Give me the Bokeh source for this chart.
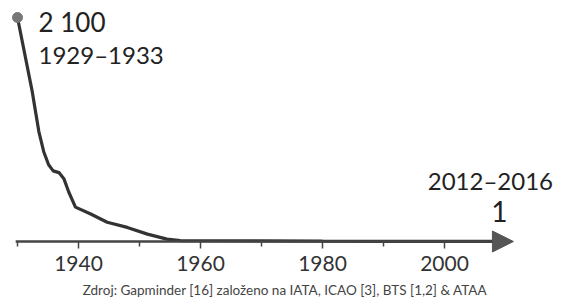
from bokeh.plotting import figure
from bokeh.models import Range1d, LinearAxis, FixedTicker, Arrow, NormalHead
from bokeh.core.properties import value
from bokeh.embed import file_html
from bokeh.resources import INLINE

# ---- data ----
years = [1930, 1932.4, 1932.95, 1933.5, 1934.3, 1935.1, 1935.85, 1936.8, 1937.6,
         1938.4, 1939.5, 1942.0, 1944.7, 1948.0, 1951.3, 1954.5, 1956.7,
         1960, 1970, 1980, 1990, 2000, 2009]
values = [2100, 1410, 1220, 1031, 842, 719, 662, 646, 589,
          464, 322, 258, 180, 132, 69, 22, 9,
          7, 5, 3, 2, 1.5, 1]
first_value_label = "2 100"
first_period = "1929–1933"
last_value_label = "1"
last_period = "2012–2016"
major_ticks = [1940, 1960, 1980, 2000]
minor_ticks = [1930, 1950, 1970, 1990]
source = "Zdroj: Gapminder [16] založeno na IATA, ICAO [3], BTS [1,2] & ATAA"

FONT = "Lato"
x0, x1 = 1927.213, 2019.836
p = figure(width=565, height=303, x_range=Range1d(x0, x1), y_range=Range1d(-581.25, 2259.4),
           min_border=0, toolbar_location=None, output_backend="svg",
           x_axis_location=None, y_axis_location=None)
p.outline_line_color = None
p.xgrid.visible = False
p.ygrid.visible = False

# axis line with arrow
p.add_layout(Arrow(end=NormalHead(size=21, fill_color="#555555", line_color="#555555"),
                   x_start=1929.7, y_start=0, x_end=2011.3, y_end=0,
                   line_width=2.5, line_color="#444444"))

ax = LinearAxis(fixed_location=0,
                ticker=FixedTicker(ticks=major_ticks, minor_ticks=minor_ticks))
ax.axis_line_color = None
ax.major_tick_in = 0
ax.major_tick_out = 7
ax.minor_tick_in = 0
ax.minor_tick_out = 5
ax.major_tick_line_color = "#444444"
ax.minor_tick_line_color = "#444444"
ax.major_tick_line_width = 1.5
ax.minor_tick_line_width = 1.5
ax.major_label_text_font = FONT
ax.major_label_text_font_size = "21px"
ax.major_label_text_color = "#333333"
ax.major_label_standoff = 7
p.add_layout(ax, "below")

# curve
p.line(years, values, line_width=3.2, line_color="#333333")
p.scatter([years[0]], [values[0]], size=10, color="#777777")

# annotations
p.text([years[0]], [values[0]], text=[first_value_label], x_offset=21, y_offset=4,
       text_font=value(FONT), text_font_size="26px", text_color="#222222",
       text_baseline="alphabetic", text_align="left")
p.text([years[0]], [values[0]], text=[first_period], x_offset=21, y_offset=37,
       text_font=value(FONT), text_font_size="24px", text_color="#222222",
       text_baseline="alphabetic", text_align="left")
p.text([years[-1]], [values[-1]], text=[last_period], x_offset=-9, y_offset=-61,
       text_font=value(FONT), text_font_size="24px", text_color="#222222",
       text_baseline="alphabetic", text_align="center")
p.text([years[-1]], [values[-1]], text=[last_value_label], x_offset=0, y_offset=-30,
       text_font=value(FONT), text_font_size="28px", text_color="#222222",
       text_baseline="alphabetic", text_align="center")

p.text([(x0 + x1) / 2], [0], text=[source], x_offset=2, y_offset=48,
       text_font=value(FONT), text_font_size="13.5px", text_color="#444444",
       text_baseline="alphabetic", text_align="center")

open("out.html", "w").write(file_html(p, INLINE))
